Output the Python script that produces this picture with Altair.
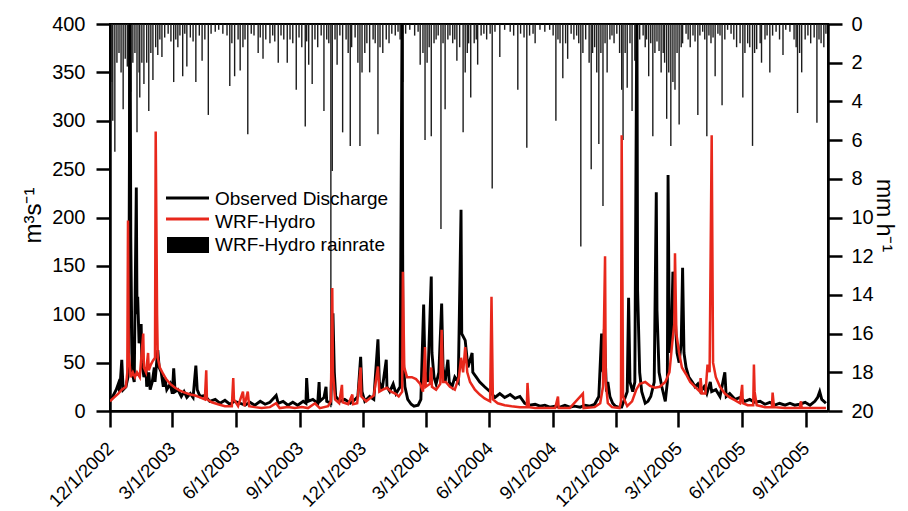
import altair as alt
import pandas as pd

# Record starts on 1 Dec 2002; all series are keyed by day of record.
START = pd.Timestamp("2002-12-01")

# Observed discharge (m3/s): (day of record, value)
obs_points = [
    (0, 12), (4, 15), (9, 22), (12, 28), (14, 20), (17, 53), (19, 22), (23, 25), (26, 35), (27, 60),
    (29, 430), (30, 180), (32, 40), (35, 30), (38, 231), (39, 100), (40, 118), (42, 70), (45, 90), (46, 50),
    (49, 35), (52, 45), (53, 25), (56, 40), (58, 22), (61, 30), (64, 45), (65, 30), (68, 55), (69, 63),
    (71, 45), (74, 40), (77, 25), (79, 35), (82, 22), (87, 28), (90, 18), (92, 44), (94, 20), (98, 22),
    (103, 15), (107, 20), (111, 14), (116, 18), (120, 14), (124, 47), (126, 22), (130, 15), (137, 16), (144, 10),
    (152, 12), (159, 8), (166, 11), (173, 7), (180, 10), (188, 8), (195, 6), (202, 9), (209, 6), (217, 10),
    (224, 7), (231, 9), (240, 16), (243, 8), (250, 10), (257, 6), (264, 9), (271, 6), (279, 10), (283, 8),
    (284, 34), (286, 10), (293, 12), (300, 8), (302, 30), (303, 10), (309, 14), (312, 25), (313, 10), (319, 8),
    (322, 101), (324, 40), (326, 15), (332, 10), (339, 12), (347, 8), (354, 12), (358, 15), (362, 56), (364, 20),
    (368, 10), (375, 15), (381, 12), (387, 74), (389, 30), (393, 22), (399, 53), (400, 25), (404, 20), (409, 28),
    (413, 18), (419, 25), (422, 430), (423, 60), (426, 25), (430, 12), (435, 7), (439, 5), (445, 6), (449, 12),
    (453, 110), (455, 40), (459, 30), (464, 139), (465, 60), (468, 35), (471, 28), (475, 40), (479, 111), (481, 45),
    (484, 30), (488, 53), (490, 30), (494, 25), (498, 35), (503, 30), (507, 208), (508, 80), (513, 73), (517, 45),
    (523, 60), (524, 40), (529, 35), (534, 30), (541, 25), (549, 20), (556, 14), (563, 18), (570, 14), (578, 17),
    (585, 13), (592, 15), (599, 8), (606, 6), (614, 7), (621, 5), (628, 6), (635, 4), (643, 5), (650, 4),
    (657, 6), (664, 4), (671, 5), (679, 4), (686, 6), (693, 5), (700, 7), (706, 15), (710, 80), (712, 40),
    (714, 85), (716, 40), (717, 20), (719, 30), (722, 15), (726, 8), (730, 5), (734, 4), (739, 4), (742, 10),
    (747, 20), (749, 117), (751, 30), (755, 20), (758, 30), (761, 430), (762, 125), (765, 40), (768, 20), (773, 8),
    (777, 10), (781, 15), (786, 30), (789, 226), (790, 104), (793, 40), (797, 25), (802, 10), (805, 30), (806, 244),
    (808, 60), (811, 80), (813, 144), (816, 100), (819, 60), (822, 50), (825, 70), (827, 148), (829, 60), (832, 45),
    (836, 35), (841, 30), (845, 25), (849, 28), (853, 20), (858, 25), (862, 18), (867, 30), (869, 20), (875, 22),
    (881, 15), (888, 40), (890, 15), (895, 18), (903, 12), (910, 14), (917, 10), (924, 12), (931, 9), (939, 10),
    (946, 7), (953, 9), (960, 6), (967, 8), (975, 6), (982, 8), (989, 6), (996, 7), (1004, 9), (1011, 6),
    (1018, 10), (1022, 14), (1025, 20), (1028, 12), (1034, 8),
]

# WRF-Hydro simulated discharge (m3/s): (day of record, value)
wrf_points = [
    (0, 10), (6, 14), (12, 18), (17, 22), (23, 25), (25, 40), (26, 197), (27, 60), (30, 35), (33, 40),
    (36, 35), (39, 40), (43, 35), (48, 80), (49, 45), (52, 40), (55, 60), (56, 42), (59, 48), (62, 52),
    (65, 55), (66, 289), (68, 100), (69, 55), (72, 45), (77, 38), (81, 33), (87, 28), (94, 24), (101, 21),
    (108, 19), (116, 17), (123, 16), (130, 14), (137, 12), (139, 42), (140, 12), (147, 9), (156, 7), (166, 5),
    (176, 5), (178, 34), (179, 12), (185, 5), (192, 20), (194, 5), (199, 20), (201, 5), (209, 4), (219, 3),
    (231, 4), (240, 8), (245, 3), (257, 4), (267, 3), (277, 4), (286, 3), (296, 8), (303, 3), (315, 5),
    (319, 10), (321, 127), (322, 40), (325, 12), (331, 8), (335, 27), (336, 9), (344, 7), (350, 17), (351, 7),
    (357, 8), (362, 45), (363, 15), (370, 10), (375, 13), (381, 16), (387, 46), (389, 20), (394, 22), (400, 24),
    (406, 20), (412, 18), (417, 15), (422, 20), (423, 144), (425, 45), (429, 35), (436, 35), (442, 33), (448, 28),
    (452, 20), (455, 66), (456, 25), (462, 28), (464, 45), (465, 25), (471, 22), (477, 28), (479, 84), (481, 30),
    (485, 30), (491, 25), (498, 22), (504, 35), (507, 55), (510, 40), (513, 66), (516, 40), (520, 30), (527, 22),
    (534, 17), (541, 13), (549, 10), (551, 118), (553, 12), (560, 8), (570, 6), (580, 5), (592, 4), (602, 4),
    (603, 29), (605, 4), (614, 3), (628, 3), (643, 3), (647, 15), (648, 3), (664, 3), (683, 18), (684, 3),
    (700, 4), (708, 8), (712, 25), (715, 160), (716, 30), (719, 8), (725, 4), (736, 3), (738, 10), (739, 285),
    (741, 15), (747, 5), (754, 10), (760, 22), (765, 28), (773, 30), (780, 26), (787, 24), (794, 25), (802, 30),
    (808, 40), (812, 70), (815, 90), (816, 163), (818, 80), (822, 60), (826, 45), (832, 38), (838, 30), (845, 25),
    (852, 20), (853, 34), (855, 18), (860, 18), (863, 48), (866, 40), (869, 285), (871, 50), (875, 35), (881, 25),
    (888, 18), (895, 14), (903, 11), (910, 8), (913, 27), (914, 8), (921, 6), (929, 6), (930, 48), (931, 20),
    (934, 6), (946, 4), (956, 4), (957, 19), (959, 4), (975, 3), (996, 3), (998, 10), (999, 3), (1018, 3),
    (1034, 3),
]

# WRF-Hydro rain rate (mm/h): (day of record, value)
rain_points = [
    (3, 3.0), (4, 5.0), (7, 6.6), (10, 2.0), (13, 1.5), (16, 2.5), (19, 4.4), (22, 1.8), (25, 2.2), (27, 7.0),
    (30, 3.5), (33, 2.0), (36, 1.5), (39, 5.6), (42, 2.5), (43, 3.8), (46, 2.0), (49, 3.1), (53, 2.0), (56, 4.5),
    (59, 1.5), (62, 2.9), (66, 1.2), (69, 1.6), (72, 0.8), (75, 1.7), (79, 0.7), (84, 0.5), (88, 0.9), (92, 3.0),
    (95, 0.8), (98, 1.2), (101, 0.6), (105, 2.7), (108, 0.5), (111, 2.2), (116, 0.7), (120, 0.9), (124, 3.0), (129, 0.6),
    (133, 1.9), (137, 0.8), (142, 4.7), (146, 0.5), (152, 0.4), (157, 0.3), (163, 0.5), (169, 0.6), (173, 3.2), (176, 1.0),
    (180, 2.7), (185, 0.8), (188, 2.4), (192, 1.2), (195, 0.8), (199, 5.7), (204, 0.5), (208, 0.6), (214, 1.5), (217, 0.7),
    (221, 1.8), (225, 0.8), (231, 1.0), (235, 0.6), (238, 0.9), (243, 2.0), (247, 0.6), (251, 0.8), (256, 2.0), (260, 0.8),
    (264, 1.0), (269, 3.4), (273, 0.7), (277, 1.2), (282, 5.3), (284, 0.9), (287, 2.1), (292, 3.1), (296, 0.8), (300, 1.2),
    (305, 0.6), (309, 4.5), (313, 0.8), (316, 1.0), (319, 19.8), (321, 7.6), (325, 0.8), (328, 2.1), (332, 0.6), (336, 5.6),
    (341, 0.8), (344, 1.5), (347, 6.3), (349, 1.2), (354, 0.7), (358, 2.0), (361, 6.3), (364, 2.5), (368, 1.5), (371, 1.0),
    (375, 2.5), (380, 0.8), (383, 1.0), (387, 5.7), (390, 1.2), (394, 1.5), (399, 0.8), (403, 1.0), (407, 0.5), (412, 0.6),
    (416, 0.4), (419, 0.8), (423, 3.0), (427, 0.5), (433, 0.3), (440, 0.6), (445, 0.4), (448, 2.1), (452, 1.5), (455, 6.0),
    (458, 2.0), (461, 1.2), (464, 5.8), (468, 1.0), (471, 0.8), (474, 0.6), (478, 10.6), (481, 1.0), (484, 4.4), (488, 0.8),
    (491, 0.6), (495, 1.0), (498, 0.8), (501, 1.9), (505, 1.2), (510, 5.6), (513, 2.5), (516, 1.5), (518, 1.0), (521, 3.8),
    (526, 1.0), (529, 0.8), (531, 2.1), (536, 0.6), (540, 0.5), (544, 0.8), (549, 0.5), (552, 8.5), (556, 0.4), (563, 1.7),
    (570, 0.3), (578, 0.4), (583, 0.6), (589, 3.4), (593, 0.5), (598, 0.7), (602, 6.4), (606, 0.6), (611, 0.5), (614, 1.0),
    (621, 0.3), (628, 0.4), (635, 0.3), (640, 0.6), (644, 5.0), (647, 0.8), (650, 1.0), (654, 2.8), (658, 1.0), (661, 1.8),
    (666, 0.5), (670, 0.8), (674, 0.6), (677, 1.0), (680, 11.5), (683, 1.5), (687, 0.8), (692, 2.0), (695, 7.5), (697, 1.5),
    (700, 1.2), (703, 2.5), (706, 6.2), (709, 1.5), (712, 9.4), (715, 1.0), (718, 2.5), (722, 0.8), (725, 0.6), (728, 1.0),
    (732, 0.5), (736, 1.5), (739, 3.4), (741, 6.0), (744, 1.5), (747, 3.3), (751, 1.0), (754, 4.5), (758, 1.9), (761, 3.0),
    (765, 0.8), (770, 0.6), (773, 1.2), (775, 0.8), (778, 2.7), (781, 1.0), (784, 5.8), (787, 1.5), (790, 0.9), (793, 1.4),
    (796, 2.5), (799, 1.5), (801, 2.0), (804, 4.9), (807, 2.5), (810, 6.3), (813, 3.0), (816, 3.4), (819, 1.5), (822, 5.2),
    (825, 1.2), (827, 1.0), (832, 0.5), (835, 0.8), (838, 1.2), (842, 0.6), (845, 0.9), (849, 4.7), (852, 0.6), (856, 0.4),
    (859, 0.8), (862, 5.8), (865, 0.6), (868, 1.0), (871, 0.7), (874, 2.7), (878, 0.5), (881, 0.6), (884, 4.2), (888, 0.8),
    (892, 0.3), (897, 0.5), (901, 0.8), (905, 1.2), (910, 1.0), (914, 3.8), (917, 1.5), (921, 1.0), (924, 1.2), (928, 6.3),
    (931, 1.5), (934, 1.3), (939, 1.0), (941, 2.0), (946, 0.8), (949, 0.6), (953, 2.5), (957, 0.6), (962, 0.4), (967, 0.8),
    (972, 1.6), (976, 0.3), (982, 0.4), (988, 0.8), (991, 1.2), (993, 4.6), (996, 1.5), (999, 2.5), (1004, 0.8), (1008, 0.6),
    (1012, 1.0), (1017, 0.7), (1021, 5.1), (1024, 0.8), (1027, 1.0), (1031, 1.2), (1034, 0.5),
]

# Quarterly date ticks and value-axis ticks
tick_months = [(2002, 12), (2003, 3), (2003, 6), (2003, 9), (2003, 12), (2004, 3), (2004, 6),
               (2004, 9), (2004, 12), (2005, 3), (2005, 6), (2005, 9)]
discharge_ticks = [0, 50, 100, 150, 200, 250, 300, 350, 400]
rain_ticks = [0, 2, 4, 6, 8, 10, 12, 14, 16, 18, 20]
legend_labels = ["Observed Discharge", "WRF-Hydro", "WRF-Hydro rainrate"]

FONT = "Liberation Sans"
RED = "#e8281c"


def frame(points, name):
    days, vals = zip(*points)
    return pd.DataFrame({"date": START + pd.to_timedelta(list(days), unit="D"), name: list(vals)})


obs_df = frame(obs_points, "q")
wrf_df = frame(wrf_points, "q")
rain_df = frame(rain_points, "mm")
rain_df["zero"] = 0.0

x_enc = alt.X(
    "date:T",
    title=None,
    scale=alt.Scale(domain=[alt.DateTime(year=2002, month=12, date=1),
                            alt.DateTime(year=2005, month=10, date=3)]),
    axis=alt.Axis(
        values=[alt.DateTime(year=y, month=m, date=1) for y, m in tick_months],
        format="%-m/%-d/%Y",
        labelAngle=-45,
        labelAlign="right",
        labelBaseline="middle",
        labelPadding=18,
        labelOverlap=False,
        labelFontSize=18.5,
        tickSize=16,
    ),
)

y_left = alt.Y(
    "q:Q",
    scale=alt.Scale(domain=[0, 400]),
    axis=alt.Axis(
        values=discharge_ticks,
        title="m³s⁻¹",
        titleAngle=-90,
        titleX=-77,
        titleY=191,
        titleAlign="center",
        titleBaseline="middle",
        titleFontSize=24,
        titleFontWeight="normal",
        tickSize=14,
        labelPadding=11,
        labelOverlap=False,
    ),
)

obs_line = alt.Chart(obs_df).mark_line(color="black", strokeWidth=2.9, clip=True).encode(x=x_enc, y=y_left)
wrf_line = alt.Chart(wrf_df).mark_line(color=RED, strokeWidth=2.5, clip=True).encode(x=x_enc, y=y_left)
discharge = alt.layer(obs_line, wrf_line)

rain = alt.Chart(rain_df).mark_rule(color="#1c1c1c", strokeWidth=1.4).encode(
    x=x_enc,
    y=alt.Y(
        "mm:Q",
        scale=alt.Scale(domain=[0, 20], reverse=True),
        axis=alt.Axis(
            orient="right",
            values=rain_ticks,
            title="mm h⁻¹",
            titleAngle=90,
            titleX=55,
            titleY=191,
            titleAlign="center",
            titleBaseline="middle",
            titleFontSize=23,
            titleFontWeight="normal",
            tickSize=14,
            labelPadding=9,
            labelOverlap=False,
        ),
    ),
    y2="zero:Q",
)

# Legend block drawn inside the plot area
leg_df = [pd.DataFrame({"label": [lab]}) for lab in legend_labels]
leg_obs = alt.Chart(leg_df[0]).mark_rule(color="black", strokeWidth=3).encode(
    x=alt.value(56), x2=alt.value(99), y=alt.value(174))
leg_wrf = alt.Chart(leg_df[1]).mark_rule(color=RED, strokeWidth=3).encode(
    x=alt.value(56), x2=alt.value(99), y=alt.value(195))
leg_rain = alt.Chart(leg_df[2]).mark_rect(color="black").encode(
    x=alt.value(57), x2=alt.value(99), y=alt.value(213), y2=alt.value(229))
leg_text = [
    alt.Chart(leg_df[i]).mark_text(align="left", baseline="middle", font=FONT, fontSize=19, color="black").encode(
        x=alt.value(105), y=alt.value(yy), text="label:N")
    for i, yy in enumerate([175, 198, 221])
]

chart = (
    alt.layer(rain, discharge, leg_obs, leg_wrf, leg_rain, *leg_text)
    .resolve_scale(y="independent")
    .properties(
        width=718,
        height=387,
        autosize=alt.AutoSizeParams(type="none"),
        padding={"left": 110, "top": 24, "right": 80, "bottom": 100},
        background="white",
    )
    .configure_axis(
        labelFont=FONT,
        labelFontSize=20,
        labelColor="black",
        titleFont=FONT,
        titleColor="black",
        domainColor="black",
        domainWidth=2.5,
        tickColor="black",
        tickWidth=2.5,
        grid=False,
    )
    .configure_view(stroke="black", strokeWidth=2)
)

chart.save("out.html", embed_options={"renderer": "svg", "actions": False})
